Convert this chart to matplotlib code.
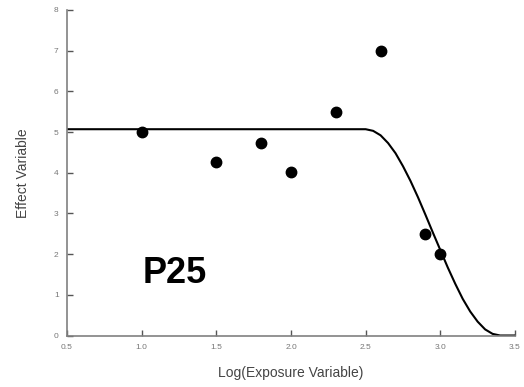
import matplotlib
matplotlib.use("Agg")
import matplotlib.pyplot as plt

plt.rcParams['font.family'] = ['Liberation Sans', 'DejaVu Sans']

# Observed data points
obs_x = [1.0, 1.5, 1.8, 2.0, 2.3, 2.6, 2.9, 3.0]
obs_y = [5.0, 4.27, 4.73, 4.02, 5.5, 7.0, 2.49, 2.0]

# Fitted curve
curve_x = [0.5, 2.50, 2.55, 2.60, 2.65, 2.70, 2.75, 2.80, 2.85, 2.90, 2.95,
           3.00, 3.05, 3.10, 3.15, 3.20, 3.25, 3.30, 3.35, 3.40, 3.50]
curve_y = [5.07, 5.07, 5.03, 4.92, 4.73, 4.48, 4.16, 3.80, 3.40, 2.97, 2.53,
           2.10, 1.67, 1.27, 0.90, 0.59, 0.34, 0.15, 0.04, 0.0, 0.0]

xticks = [0.5, 1.0, 1.5, 2.0, 2.5, 3.0, 3.5]
xticklabels = ['0.5', '1.0', '1.5', '2.0', '2.5', '3.0', '3.5']
yticks = [0, 1, 2, 3, 4, 5, 6, 7, 8]
yticklabels = [str(v) for v in yticks]

fig = plt.figure(figsize=(5.24, 3.87), dpi=100)
ax = fig.add_axes([67/524, 1 - 335.5/387, (515 - 67)/524, (335.5 - 10)/387])

ax.plot(curve_x, curve_y, color='black', lw=1.5, solid_capstyle='round')
ax.plot(obs_x, obs_y, 'o', color='black', ms=7.5, clip_on=False)

ax.set_xlim(0.5, 3.5)
ax.set_ylim(0, 8)
ax.set_xticks(xticks)
ax.set_xticklabels(xticklabels)
ax.set_yticks(yticks)
ax.set_yticklabels(yticklabels)

for s in ['top', 'right']:
    ax.spines[s].set_visible(False)
for s in ['left', 'bottom']:
    ax.spines[s].set_color('#808080')
    ax.spines[s].set_linewidth(1.2)

ax.tick_params(direction='in', length=4, width=1, color='#555555',
               labelsize=6, labelcolor='#777777', pad=6)

ax.set_xlabel('Log(Exposure Variable)', fontsize=10, color='#444444', labelpad=11)
ax.set_ylabel('Effect Variable', fontsize=10, color='#444444', labelpad=17)

ax.text(1.009, 1.29, 'P25', fontsize=26, fontweight='bold', color='black',
        ha='left', va='baseline')

fig.savefig('out.png', dpi=100)
